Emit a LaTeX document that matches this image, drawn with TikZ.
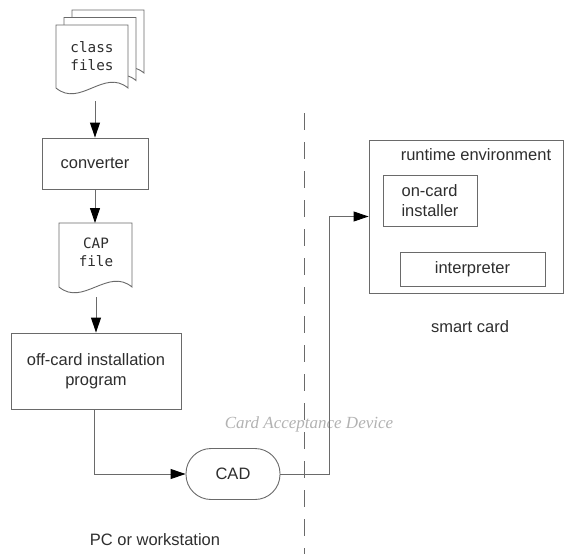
\documentclass[tikz,border=0pt]{standalone}
\usepackage{fontspec}
\setmainfont{Liberation Sans}
\newfontfamily\monofam{DejaVu Sans Mono}
\newfontfamily\handfam{Liberation Serif}
\usetikzlibrary{arrows.meta,calc}
\definecolor{linec}{HTML}{6A6A6A}
\definecolor{textc}{HTML}{2E2E2E}
\tikzset{
  lbl/.style={font=\fontsize{16.5}{20}\selectfont, text=textc, align=center, inner sep=0pt},
  box/.style={draw=linec, line width=0.9pt, fill=white, inner sep=0pt, lbl},
  docst/.style={draw=linec, line width=0.9pt, fill=white},
  mono/.style={font=\monofam\fontsize{14.3}{18}\selectfont, text=textc, align=center, inner sep=0pt},
  arr/.style={draw=linec, line width=0.9pt, -{Triangle[length=15pt,width=10pt,color=black]}},
}
\begin{document}
\begin{tikzpicture}[x=1pt,y=-1pt]
\useasboundingbox (0,0) rectangle (565,554);
% class files stack
\draw[docst] (72,10) -- (144,10) -- (144,73) .. controls (120,53) and (96,93) .. (72,73) -- cycle;
\draw[docst] (64,17.5) -- (136,17.5) -- (136,80.5) .. controls (112,60.5) and (88,100.5) .. (64,80.5) -- cycle;
\draw[docst] (56,25) -- (128,25) -- (128,88) .. controls (104,68) and (80,108) .. (56,88) -- cycle;
\node[mono] (cls) at (92,56) {class\\files};
\coordinate (clsb) at (95,101);
% converter
\node[box, minimum width=106pt, minimum height=51pt] (conv) at (95,163.5) {converter};
% CAP file
\draw[docst] (59,223) -- (132,223) -- (132,287) .. controls (108,267) and (83,307) .. (59,287) -- cycle;
\node[mono] (cap) at (96,252) {CAP\\file};
\coordinate (capt) at (95,223);
\coordinate (capb) at (96,297);
% off-card installation program
\node[box, minimum width=170pt, minimum height=76pt] (off) at (96,371) {off-card installation\\program};
% CAD
\node[box, minimum width=94pt, minimum height=51pt, rounded corners=25pt] (cad) at (233,474) {CAD};
\node[font=\handfam\itshape\fontsize{17}{20}\selectfont, text=black!30, inner sep=0pt] (hand) at (309,424) {Card Acceptance Device};
% runtime environment
\node[box, minimum width=194pt, minimum height=153pt] (rt) at (466,216.5) {};
\node[lbl] (rtl) at (476,155) {runtime environment};
\node[box, minimum width=94pt, minimum height=51pt, align=left] (inst) at (430,200.5) {on-card\\installer};
\node[box, minimum width=145pt, minimum height=34pt] (interp) at (472.5,269) {interpreter};
\node[lbl] (sc) at (470,327) {smart card};
\node[lbl] (pc) at (155,540) {PC or workstation};
% dashed separator
\coordinate (dtop) at (304,113);
\coordinate (dbot) at (304,554);
\draw[draw=linec, line width=1pt, dash pattern=on 17pt off 12pt] (dtop) -- (dbot);
% connectors
\draw[arr] (clsb) -- (conv.north);
\draw[arr] (conv.south) -- (capt);
\draw[arr] (capb) -- (capb |- off.north);
\draw[arr] ($(off.south)+(-2,0)$) |- (cad.west);
\draw[arr] (cad.east) -- ++(49,0) |- (rt.west);
\end{tikzpicture}
\end{document}
